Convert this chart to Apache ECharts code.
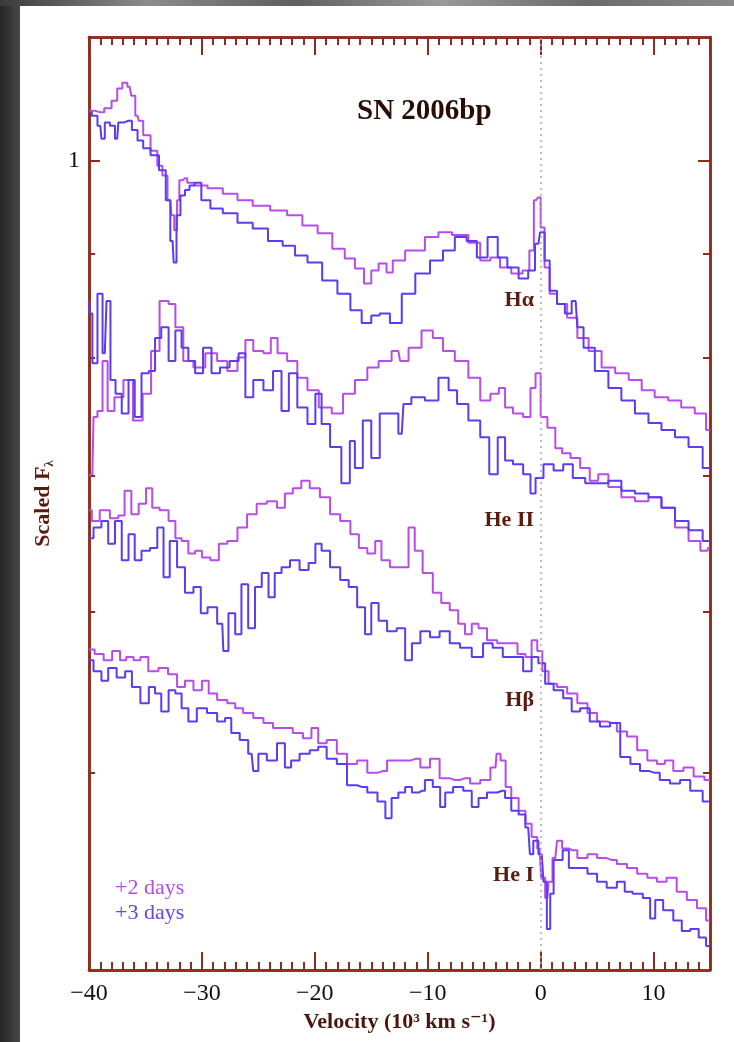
<!DOCTYPE html>
<html><head><meta charset="utf-8">
<script src="https://cdn.jsdelivr.net/npm/echarts@6/dist/echarts.min.js"></script>
<style>
html,body{margin:0;padding:0;width:734px;height:1042px;overflow:hidden;background:linear-gradient(to right,#252525 0px,#363636 10px,#4a4a4a 20px);}
#top{position:absolute;left:0;top:0;width:734px;height:6px;background:linear-gradient(to right,#3a3a3a,#8c8c8c 20%,#5e5e5e 40%,#9a9a9a 60%,#6a6a6a 80%,#8a8a8a);}
#chart{position:absolute;left:20px;top:6px;width:714px;height:1036px;background:#ffffff;}
</style></head><body><div id="top"></div><div id="chart"></div>
<script>
// ---- data: [velocity (10^3 km/s), scaled F_lambda] ----
const halpha2 = [[-40.0,1.058],[-39.0,1.056],[-38.3,1.061],[-37.7,1.070],[-37.3,1.085],[-36.8,1.092],[-36.4,1.087],[-36.1,1.076],[-35.7,1.052],[-35.5,1.046],[-34.9,1.029],[-34.2,1.011],[-33.7,0.994],[-33.3,0.983],[-32.8,0.956],[-32.6,0.940],[-32.3,0.924],[-32.1,0.956],[-31.9,0.978],[-31.5,0.980],[-31.1,0.975],[-30.2,0.972],[-28.8,0.969],[-27.5,0.963],[-26.2,0.956],[-24.8,0.950],[-23.1,0.945],[-21.8,0.940],[-20.4,0.929],[-19.1,0.921],[-17.8,0.905],[-16.9,0.895],[-16.0,0.885],[-15.3,0.870],[-14.7,0.883],[-14.0,0.890],[-13.3,0.881],[-12.9,0.893],[-11.1,0.903],[-9.4,0.917],[-8.7,0.922],[-7.0,0.919],[-5.8,0.911],[-4.9,0.893],[-4.0,0.896],[-3.2,0.886],[-2.0,0.880],[-1.2,0.883],[-0.8,0.903],[-0.4,0.956],[-0.1,0.959],[0.1,0.927],[0.6,0.886],[1.0,0.860],[1.9,0.850],[2.8,0.837],[3.7,0.818],[4.8,0.806],[6.0,0.791],[7.2,0.786],[8.4,0.780],[9.5,0.771],[10.7,0.765],[11.9,0.762],[13.0,0.756],[14.3,0.751],[15.0,0.737]];
const halpha3 = [[-40.0,1.056],[-39.5,1.052],[-39.0,1.040],[-38.8,1.025],[-38.4,1.044],[-37.9,1.040],[-37.5,1.025],[-37.3,1.044],[-36.5,1.046],[-35.9,1.035],[-35.5,1.023],[-34.9,1.014],[-34.2,1.006],[-33.4,0.989],[-33.0,0.956],[-32.6,0.913],[-32.4,0.891],[-32.1,0.940],[-31.7,0.961],[-31.3,0.967],[-30.9,0.972],[-30.4,0.975],[-29.7,0.956],[-28.8,0.947],[-27.5,0.942],[-26.2,0.932],[-24.8,0.926],[-23.5,0.913],[-22.2,0.908],[-21.3,0.898],[-20.0,0.891],[-18.7,0.873],[-17.3,0.860],[-16.4,0.844],[-15.3,0.832],[-14.7,0.839],[-13.8,0.841],[-12.9,0.832],[-11.7,0.860],[-10.5,0.880],[-9.1,0.893],[-8.2,0.903],[-7.0,0.917],[-6.1,0.913],[-5.2,0.896],[-4.2,0.917],[-3.4,0.896],[-2.5,0.886],[-1.4,0.875],[-0.8,0.883],[-0.2,0.910],[0.1,0.922],[0.6,0.893],[1.0,0.863],[1.9,0.850],[2.4,0.841],[3.1,0.853],[3.4,0.828],[4.2,0.809],[5.4,0.788],[6.6,0.773],[7.7,0.762],[9.0,0.751],[10.1,0.743],[11.3,0.737],[12.5,0.731],[13.7,0.723],[15.0,0.706]];
const heII2 = [[-40.0,0.700],[-39.7,0.701],[-39.5,0.748],[-39.0,0.753],[-38.6,0.797],[-38.1,0.753],[-37.4,0.765],[-36.5,0.780],[-35.7,0.745],[-34.8,0.768],[-34.2,0.806],[-33.3,0.853],[-32.6,0.850],[-32.1,0.828],[-31.2,0.797],[-30.3,0.791],[-29.1,0.804],[-28.2,0.797],[-27.3,0.788],[-26.4,0.800],[-25.9,0.816],[-25.0,0.806],[-24.1,0.804],[-23.7,0.818],[-22.9,0.804],[-22.0,0.797],[-21.1,0.782],[-20.2,0.771],[-19.1,0.756],[-17.9,0.751],[-17.1,0.768],[-15.8,0.780],[-14.9,0.791],[-13.8,0.797],[-12.6,0.806],[-12.3,0.797],[-11.1,0.809],[-10.0,0.825],[-9.1,0.818],[-8.2,0.806],[-7.0,0.797],[-5.8,0.782],[-4.9,0.762],[-4.0,0.768],[-3.4,0.773],[-2.9,0.756],[-2.0,0.751],[-1.1,0.748],[-0.7,0.773],[-0.2,0.786],[0.2,0.748],[1.0,0.739],[1.6,0.722],[2.2,0.718],[3.1,0.714],[3.9,0.706],[4.8,0.696],[5.4,0.701],[6.6,0.691],[7.7,0.683],[9.0,0.680],[10.1,0.683],[11.3,0.675],[12.5,0.660],[13.7,0.650],[14.6,0.643],[15.0,0.645]];
const heII3 = [[-40.0,0.853],[-39.9,0.841],[-39.5,0.795],[-39.0,0.860],[-38.6,0.804],[-38.3,0.853],[-37.9,0.780],[-37.4,0.768],[-36.8,0.751],[-36.2,0.780],[-35.7,0.748],[-35.0,0.786],[-34.4,0.788],[-33.9,0.818],[-33.3,0.828],[-32.6,0.797],[-32.1,0.825],[-31.5,0.809],[-30.9,0.797],[-30.3,0.786],[-29.5,0.809],[-28.8,0.786],[-28.0,0.791],[-27.1,0.797],[-26.4,0.804],[-25.9,0.765],[-25.0,0.780],[-24.1,0.771],[-23.3,0.788],[-22.6,0.753],[-22.0,0.786],[-21.1,0.756],[-20.2,0.742],[-19.7,0.768],[-19.1,0.742],[-18.2,0.723],[-17.1,0.694],[-16.7,0.728],[-16.2,0.706],[-15.3,0.745],[-14.7,0.714],[-13.8,0.751],[-12.9,0.751],[-12.3,0.734],[-12.0,0.759],[-10.9,0.765],[-9.6,0.762],[-8.5,0.782],[-7.8,0.771],[-7.0,0.759],[-5.8,0.745],[-4.9,0.731],[-4.2,0.701],[-3.4,0.731],[-2.9,0.712],[-2.0,0.709],[-1.1,0.701],[-0.7,0.686],[-0.2,0.698],[0.7,0.709],[1.6,0.704],[2.4,0.709],[3.3,0.698],[4.6,0.694],[5.4,0.694],[6.6,0.696],[7.7,0.688],[9.0,0.686],[10.1,0.683],[11.3,0.675],[12.5,0.665],[13.7,0.658],[15.0,0.650]];
const hbeta2 = [[-40.0,0.673],[-39.5,0.665],[-38.6,0.673],[-37.7,0.667],[-37.1,0.669],[-36.6,0.688],[-35.9,0.670],[-35.3,0.678],[-34.6,0.690],[-34.2,0.675],[-33.3,0.673],[-32.6,0.665],[-32.1,0.652],[-31.5,0.650],[-30.9,0.641],[-30.3,0.643],[-29.7,0.638],[-28.8,0.636],[-28.2,0.648],[-27.3,0.650],[-26.4,0.660],[-25.6,0.670],[-24.7,0.678],[-23.8,0.680],[-22.9,0.675],[-22.4,0.686],[-21.5,0.690],[-20.9,0.696],[-20.0,0.690],[-19.1,0.683],[-18.2,0.670],[-17.3,0.665],[-16.4,0.655],[-15.8,0.645],[-14.9,0.641],[-14.4,0.650],[-13.8,0.636],[-12.9,0.631],[-12.0,0.631],[-11.4,0.660],[-10.9,0.643],[-10.0,0.627],[-9.1,0.613],[-8.5,0.606],[-7.6,0.601],[-7.0,0.592],[-6.4,0.585],[-5.8,0.592],[-5.2,0.589],[-4.3,0.581],[-3.4,0.579],[-2.5,0.579],[-1.6,0.572],[-1.1,0.570],[-0.5,0.581],[-0.1,0.574],[0.4,0.561],[1.0,0.553],[1.9,0.551],[2.8,0.547],[3.7,0.541],[4.6,0.535],[5.4,0.530],[6.3,0.529],[7.2,0.524],[8.1,0.521],[9.0,0.513],[9.9,0.507],[10.7,0.505],[11.3,0.507],[12.2,0.501],[13.1,0.503],[14.0,0.498],[15.0,0.496]];
const hbeta3 = [[-40.0,0.652],[-39.2,0.660],[-38.6,0.665],[-38.0,0.648],[-37.4,0.665],[-36.8,0.636],[-36.2,0.655],[-35.7,0.636],[-35.0,0.643],[-34.2,0.645],[-33.7,0.660],[-33.1,0.624],[-32.6,0.650],[-31.8,0.631],[-31.2,0.613],[-30.3,0.617],[-29.9,0.599],[-29.1,0.603],[-28.2,0.592],[-28.0,0.574],[-27.3,0.599],[-26.8,0.585],[-26.2,0.619],[-25.6,0.589],[-25.0,0.617],[-24.4,0.627],[-23.8,0.610],[-23.3,0.627],[-22.6,0.631],[-21.8,0.636],[-20.9,0.629],[-20.2,0.634],[-19.7,0.648],[-19.1,0.643],[-18.2,0.631],[-17.3,0.622],[-16.7,0.617],[-15.8,0.603],[-15.3,0.585],[-14.7,0.606],[-14.0,0.594],[-13.2,0.587],[-12.3,0.589],[-11.7,0.568],[-11.1,0.579],[-10.2,0.587],[-9.4,0.583],[-8.5,0.587],[-7.6,0.579],[-6.7,0.576],[-5.5,0.570],[-4.7,0.579],[-3.8,0.576],[-2.9,0.570],[-2.0,0.570],[-1.1,0.561],[-0.5,0.570],[0.1,0.566],[0.7,0.553],[1.6,0.549],[2.4,0.544],[3.1,0.536],[3.9,0.538],[4.8,0.530],[5.7,0.527],[6.6,0.529],[7.5,0.509],[8.4,0.505],[9.2,0.501],[10.1,0.500],[11.0,0.496],[11.9,0.494],[12.8,0.496],[13.7,0.490],[15.0,0.484]];
const heI2 = [[-40.0,0.575],[-39.0,0.572],[-38.4,0.568],[-37.5,0.574],[-37.0,0.568],[-36.4,0.570],[-35.7,0.568],[-35.2,0.570],[-34.3,0.561],[-33.4,0.563],[-32.6,0.559],[-31.8,0.551],[-31.2,0.555],[-30.3,0.549],[-29.7,0.555],[-29.1,0.547],[-28.2,0.543],[-27.3,0.541],[-26.8,0.538],[-25.9,0.535],[-25.0,0.532],[-24.1,0.529],[-23.3,0.526],[-22.4,0.526],[-21.5,0.523],[-20.6,0.520],[-20.0,0.526],[-19.4,0.517],[-18.5,0.519],[-17.6,0.511],[-16.7,0.505],[-15.8,0.507],[-14.9,0.500],[-14.0,0.501],[-13.2,0.507],[-12.0,0.507],[-11.1,0.508],[-10.2,0.503],[-9.4,0.508],[-8.5,0.497],[-7.6,0.496],[-6.7,0.497],[-5.8,0.494],[-4.9,0.496],[-4.0,0.503],[-3.8,0.511],[-3.3,0.507],[-2.9,0.492],[-2.3,0.486],[-1.6,0.479],[-1.1,0.472],[-0.5,0.465],[-0.1,0.459],[0.2,0.444],[0.6,0.434],[0.8,0.442],[1.3,0.454],[1.6,0.463],[2.2,0.459],[2.8,0.458],[3.7,0.454],[4.6,0.456],[5.4,0.454],[6.3,0.453],[7.2,0.451],[8.1,0.449],[9.0,0.446],[9.9,0.444],[10.7,0.442],[11.6,0.444],[12.5,0.437],[13.4,0.433],[14.3,0.429],[15.0,0.423]];
const heI3 = [[-40.0,0.568],[-39.2,0.561],[-38.6,0.555],[-38.0,0.563],[-37.1,0.557],[-36.5,0.561],[-35.9,0.551],[-35.0,0.541],[-34.4,0.551],[-33.9,0.547],[-33.3,0.536],[-32.6,0.549],[-32.1,0.547],[-31.5,0.538],[-30.9,0.530],[-30.0,0.538],[-29.1,0.535],[-28.2,0.530],[-27.7,0.532],[-27.1,0.523],[-26.2,0.519],[-25.6,0.511],[-25.3,0.501],[-24.7,0.511],[-23.8,0.507],[-22.9,0.517],[-22.4,0.503],[-21.8,0.507],[-20.9,0.511],[-20.0,0.513],[-19.4,0.515],[-18.5,0.508],[-17.6,0.505],[-16.7,0.493],[-15.8,0.492],[-14.9,0.489],[-14.0,0.484],[-13.5,0.475],[-12.9,0.486],[-12.3,0.489],[-11.7,0.492],[-11.1,0.489],[-10.5,0.490],[-10.0,0.496],[-9.1,0.492],[-8.7,0.481],[-8.2,0.489],[-7.3,0.492],[-6.4,0.490],[-5.8,0.481],[-5.2,0.486],[-4.3,0.489],[-3.4,0.490],[-2.9,0.486],[-2.3,0.479],[-1.6,0.477],[-1.1,0.470],[-0.8,0.456],[-0.5,0.463],[0.1,0.456],[0.4,0.442],[0.7,0.419],[1.0,0.436],[1.3,0.453],[1.7,0.453],[2.2,0.458],[2.8,0.449],[3.7,0.449],[4.6,0.446],[5.4,0.442],[6.3,0.439],[7.2,0.442],[7.7,0.437],[8.6,0.436],[9.5,0.434],[9.9,0.424],[10.4,0.433],[11.3,0.428],[12.2,0.423],[12.8,0.418],[13.7,0.419],[14.3,0.415],[15.0,0.411]];
const lineLabels = ['Hα', 'He II', 'Hβ', 'He I'];
const epochs = ['+2 days', '+3 days'];
const yMajorTicks = [1];
const yMinorTicks = [0.5, 0.6, 0.7, 0.8, 0.9];

// ---- styles ----
const AX = '#8e2b1c';
const SERIF = '"Liberation Serif","DejaVu Serif",serif';
const MAG = '#b84ce8', BLU = '#5a3df0';
const LBL = '#5a1a0c';

const chart = echarts.init(document.getElementById('chart'), null, {renderer: 'canvas'});

function spec(name, data, color, z) {
  return {name, type: 'line', data, step: 'middle', showSymbol: false, symbol: 'none',
    lineStyle: {width: 2, color}, itemStyle: {color}, z, animation: false, clip: true};
}
const axLine = {show: true, onZero: false, lineStyle: {color: AX, width: 2.5}};
const tickStyle = {color: AX, width: 2};
const xBase = {type: 'value', min: -40, max: 15, axisLine: axLine, splitLine: {show: false}};
const yBase = {type: 'log', logBase: 10, min: 0.4, max: 1.15, axisLine: axLine, splitLine: {show: false}, minorTick: {show: false}};

const series = [
  spec('Hα ' + epochs[0], halpha2, MAG, 2),
  spec('He II ' + epochs[0], heII2, MAG, 2),
  spec('Hβ ' + epochs[0], hbeta2, MAG, 2),
  spec('He I ' + epochs[0], heI2, MAG, 2),
  spec('Hα ' + epochs[1], halpha3, BLU, 3),
  spec('He II ' + epochs[1], heII3, BLU, 3),
  spec('Hβ ' + epochs[1], hbeta3, BLU, 3),
  spec('He I ' + epochs[1], heI3, BLU, 3)
];
series[0].markLine = {silent: true, symbol: 'none', label: {show: false},
  lineStyle: {color: '#a9a9a9', type: [2, 4], width: 1.5}, data: [{xAxis: 0}]};

const labelY = [294, 514, 694, 869];
const graphic = [
  {type: 'text', x: 337, y: 106, style: {text: 'SN 2006bp', align: 'left', verticalAlign: 'middle',
    font: 'bold 29px ' + SERIF, fill: '#2a0c06'}},
  ...lineLabels.map((t, i) => ({type: 'text', x: 514, y: labelY[i], style: {text: t, align: 'right',
    verticalAlign: 'middle', font: 'bold 22px ' + SERIF, fill: LBL}})),
  {type: 'text', x: 95, y: 882, style: {text: epochs[0], align: 'left', verticalAlign: 'middle',
    font: '22px ' + SERIF, fill: '#b04ee0'}},
  {type: 'text', x: 95, y: 907, style: {text: epochs[1], align: 'left', verticalAlign: 'middle',
    font: '22px ' + SERIF, fill: '#6445ee'}}
];

const option = {
  animation: false,
  backgroundColor: '#ffffff',
  grid: {left: 69, top: 31, right: 24, bottom: 72, containLabel: false},
  xAxis: [
    {...xBase, position: 'bottom', interval: 10,
      axisTick: {inside: true, length: 18, lineStyle: tickStyle},
      axisLabel: {fontFamily: SERIF, fontSize: 24, color: '#1a0d08', margin: 12,
        formatter: v => (v === 15 ? '' : String(v).replace('-', '\u2212'))},
      name: 'Velocity (10³ km s⁻¹)', nameLocation: 'middle', nameGap: 40,
      nameTextStyle: {fontFamily: SERIF, fontSize: 22, fontWeight: 'bold', color: '#4a170c'}},
    {...xBase, position: 'bottom', interval: 1,
      axisTick: {inside: true, length: 8, lineStyle: tickStyle}, axisLabel: {show: false}},
    {...xBase, position: 'top', interval: 10,
      axisTick: {inside: true, length: 18, lineStyle: tickStyle}, axisLabel: {show: false}},
    {...xBase, position: 'top', interval: 1,
      axisTick: {inside: true, length: 8, lineStyle: tickStyle}, axisLabel: {show: false}}
  ],
  yAxis: [
    {...yBase, position: 'left',
      axisTick: {inside: true, length: 11, lineStyle: tickStyle, customValues: yMajorTicks},
      axisLabel: {customValues: yMajorTicks, fontFamily: SERIF, fontSize: 24, color: '#1a0d08', margin: 9,
        formatter: v => String(Math.round(v))},
      name: 'Scaled F{sub|λ}', nameLocation: 'middle', nameGap: 33, nameRotate: 90,
      nameTextStyle: {fontFamily: SERIF, fontSize: 22, fontWeight: 'bold', color: LBL, lineHeight: 26,
        rich: {sub: {fontFamily: SERIF, fontSize: 13, fontWeight: 'bold', color: LBL, verticalAlign: 'bottom', lineHeight: 13}}}},
    {...yBase, position: 'left',
      axisTick: {inside: true, length: 6, lineStyle: tickStyle, customValues: yMinorTicks},
      axisLabel: {show: false}},
    {...yBase, position: 'right',
      axisTick: {inside: true, length: 12, lineStyle: tickStyle, customValues: yMajorTicks},
      axisLabel: {show: false}},
    {...yBase, position: 'right',
      axisTick: {inside: true, length: 7, lineStyle: tickStyle, customValues: yMinorTicks},
      axisLabel: {show: false}}
  ],
  series,
  graphic
};
chart.setOption(option);
</script></body></html>
